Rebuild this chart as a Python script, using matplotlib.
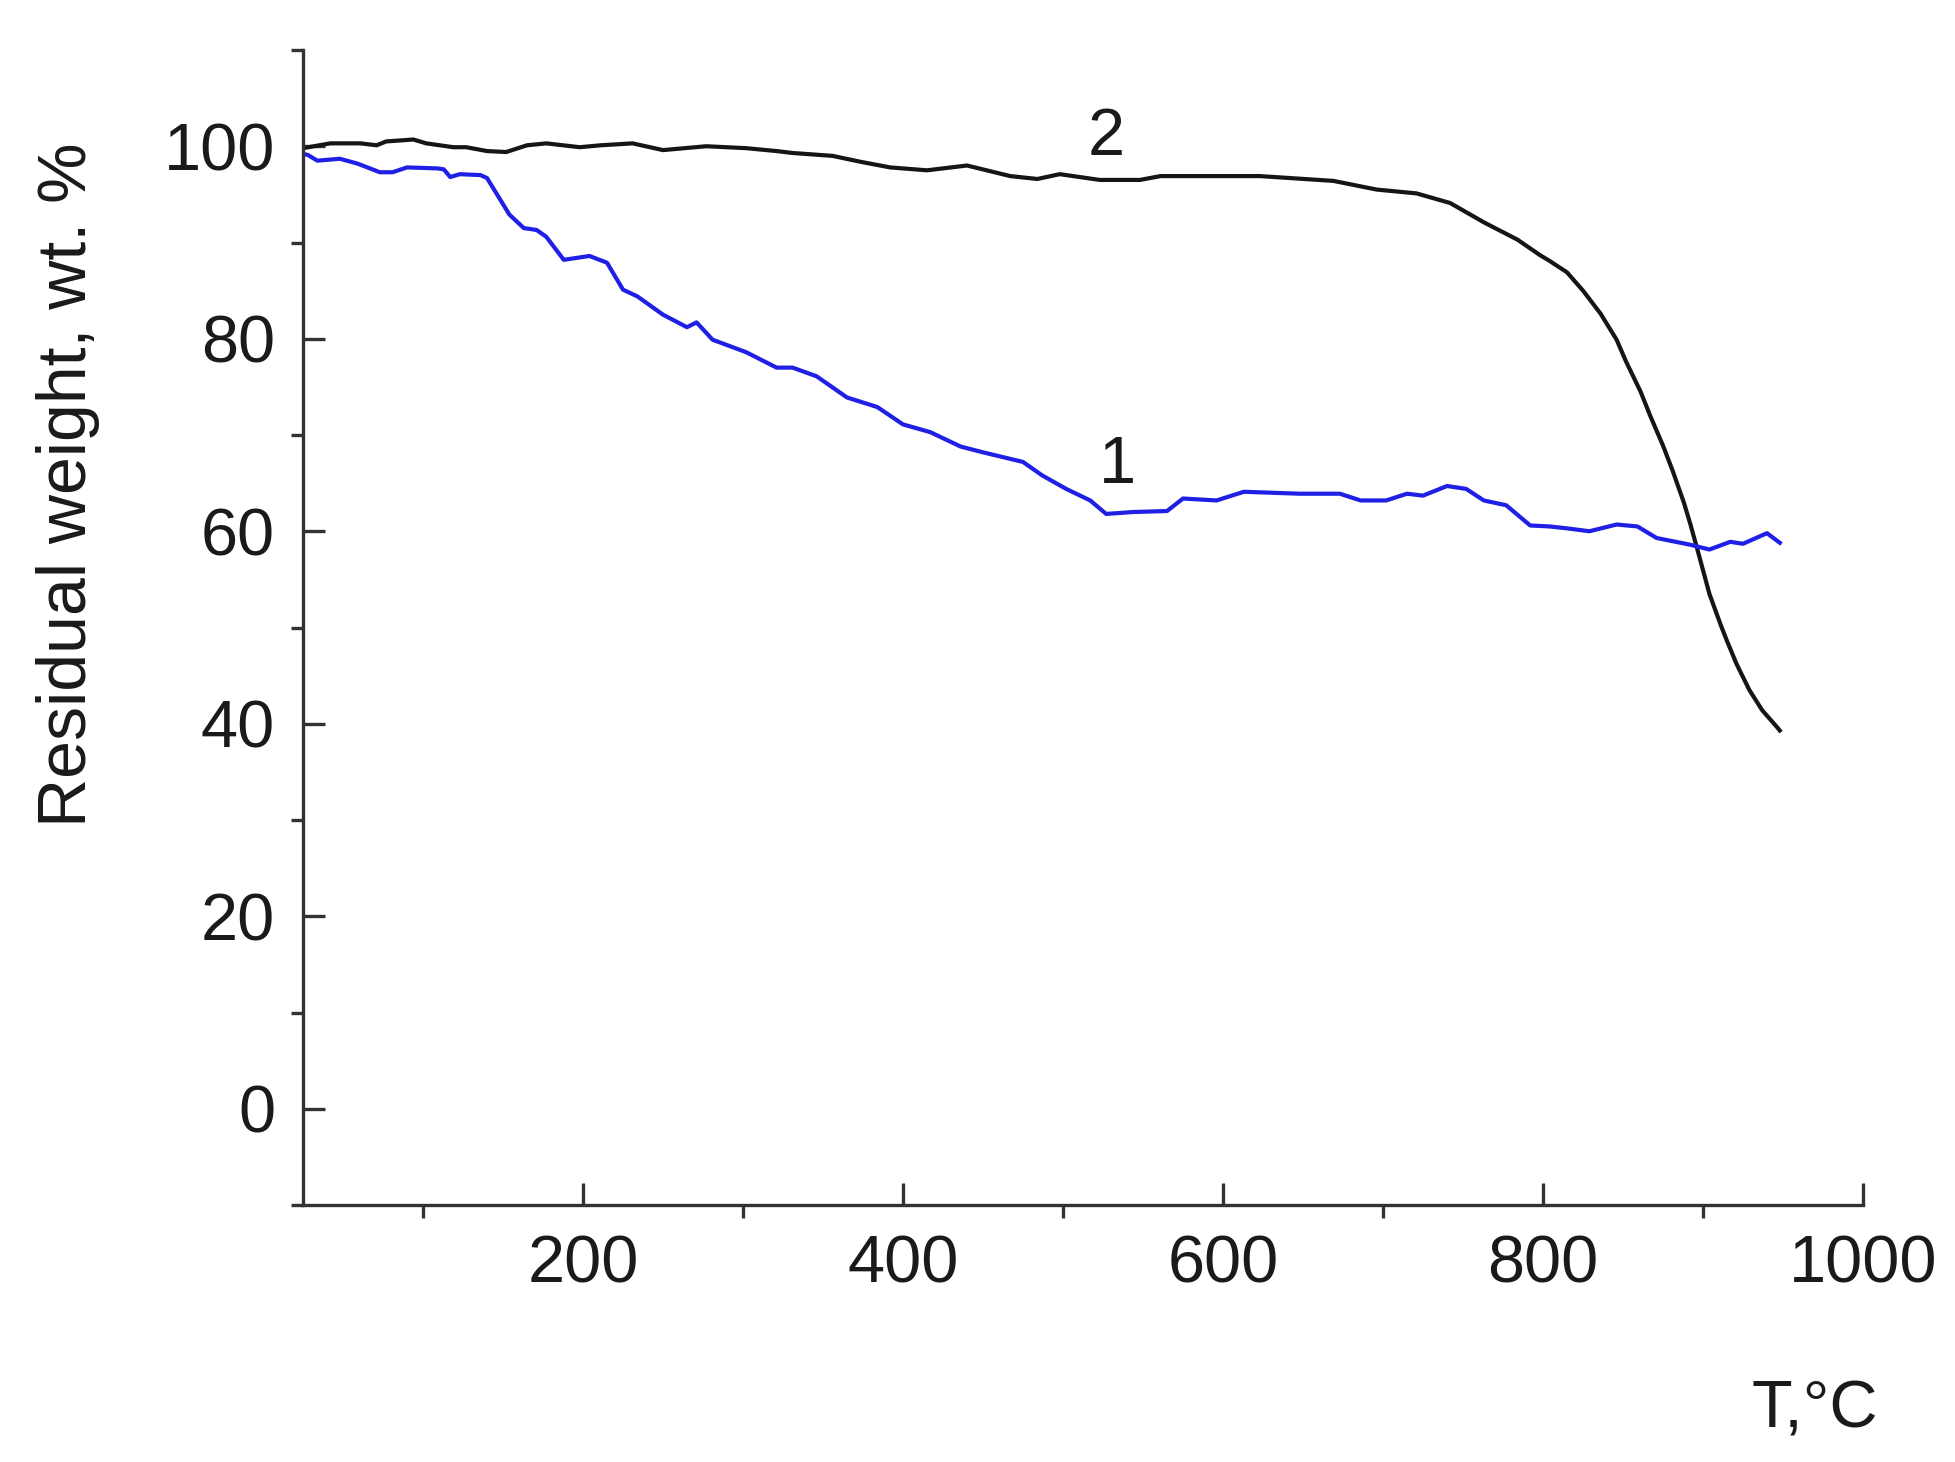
import numpy as np
import matplotlib
matplotlib.use("Agg")
import matplotlib.pyplot as plt
from matplotlib.ticker import MultipleLocator

# curve 1 (blue)
t1 = [25, 28, 34, 48, 59, 73, 81, 90, 109, 113, 117, 123, 136, 140, 154, 163, 171, 177,
      188, 196, 204, 215, 225, 234, 250, 265, 271, 281, 302, 321, 331, 346, 365, 384,
      400, 417, 436, 450, 475, 487, 502, 517, 527, 544, 565, 575, 596, 613, 648, 673,
      686, 702, 715, 725, 740, 752, 763, 777, 792, 804, 815, 829, 846, 859, 871, 892,
      904, 917, 925, 940, 948]
w1 = [99.2, 99.1, 98.5, 98.7, 98.2, 97.3, 97.3, 97.8, 97.7, 97.6, 96.8, 97.1, 97.0, 96.7,
      92.9, 91.5, 91.3, 90.6, 88.2, 88.4, 88.6, 87.9, 85.1, 84.4, 82.5, 81.2, 81.7, 79.9,
      78.6, 77.0, 77.0, 76.1, 73.9, 72.9, 71.1, 70.3, 68.8, 68.2, 67.2, 65.8, 64.4, 63.2,
      61.8, 62.0, 62.1, 63.4, 63.2, 64.1, 63.9, 63.9, 63.2, 63.2, 63.9, 63.7, 64.7, 64.4,
      63.2, 62.7, 60.6, 60.5, 60.3, 60.0, 60.7, 60.5, 59.3, 58.6, 58.1, 58.9, 58.7, 59.8,
      58.8]

# curve 2 (black)
t2 = [25, 42, 61, 71, 77, 94, 102, 119, 127, 140, 152, 165, 177, 198, 211, 231, 250, 277,
      302, 321, 331, 356, 373, 392, 415, 440, 467, 484, 498, 523, 548, 561, 623, 669, 696,
      721, 742, 763, 784, 798, 804, 815, 825, 836, 846, 852, 861, 867, 875, 881, 888, 892,
      897, 904, 911, 915, 921, 929, 937, 946, 948]
w2 = [99.8, 100.3, 100.3, 100.1, 100.5, 100.7, 100.3, 99.9, 99.9, 99.5, 99.4, 100.1, 100.3,
      99.9, 100.1, 100.3, 99.6, 100.0, 99.8, 99.5, 99.3, 99.0, 98.4, 97.8, 97.5, 98.0, 96.9,
      96.6, 97.1, 96.5, 96.5, 96.9, 96.9, 96.4, 95.5, 95.1, 94.1, 92.1, 90.3, 88.7, 88.1,
      86.9, 85.0, 82.6, 79.9, 77.6, 74.5, 72.0, 68.9, 66.3, 63.0, 60.8, 57.8, 53.5, 50.3,
      48.6, 46.2, 43.5, 41.4, 39.7, 39.3]

plt.rcParams['font.family'] = ['Liberation Sans', 'DejaVu Sans']
txt = '#1a1a1a'

fig = plt.figure(figsize=(19.56, 14.62), dpi=100)
ax = fig.add_axes([303 / 1956, 1 - 1205 / 1462, 1560 / 1956, 1155 / 1462])

ax.plot(t2, w2, color='#151515', lw=3.0, solid_joinstyle='round')
ax.plot(t1, w1, color='#1f1fe6', lw=3.0, solid_joinstyle='round')

ax.set_xlim(25, 1000)
ax.set_ylim(-10, 110)
ax.xaxis.set_major_locator(MultipleLocator(200))
ax.xaxis.set_minor_locator(MultipleLocator(100))
ax.yaxis.set_major_locator(MultipleLocator(20))
ax.yaxis.set_minor_locator(MultipleLocator(10))

for s in ['top', 'right']:
    ax.spines[s].set_visible(False)
for s in ['left', 'bottom']:
    ax.spines[s].set_linewidth(2.4)
    ax.spines[s].set_color('#333333')

ax.tick_params(which='major', direction='in', length=16, width=2.4, color='#333333',
               labelsize=48, labelcolor=txt)
ax.tick_params(axis='y', which='major', pad=20)
ax.tick_params(axis='x', which='major', pad=21)
ax.tick_params(which='minor', direction='out', length=9, width=2.4, color='#333333')

ax.text(527, 100.9, '2', fontsize=48, color=txt, ha='center', va='center')
ax.text(534, 66.8, '1', fontsize=48, color=txt, ha='center', va='center')

fig.text(68 / 1956, 1 - 485 / 1462, 'Residual weight, wt. %', rotation=90,
         fontsize=49, color=txt, ha='center', va='center')
fig.text(1815 / 1956, 1 - 1427 / 1462, 'T,°C', fontsize=48, color=txt,
         ha='center', va='baseline')

fig.savefig('out.png', dpi=100)
